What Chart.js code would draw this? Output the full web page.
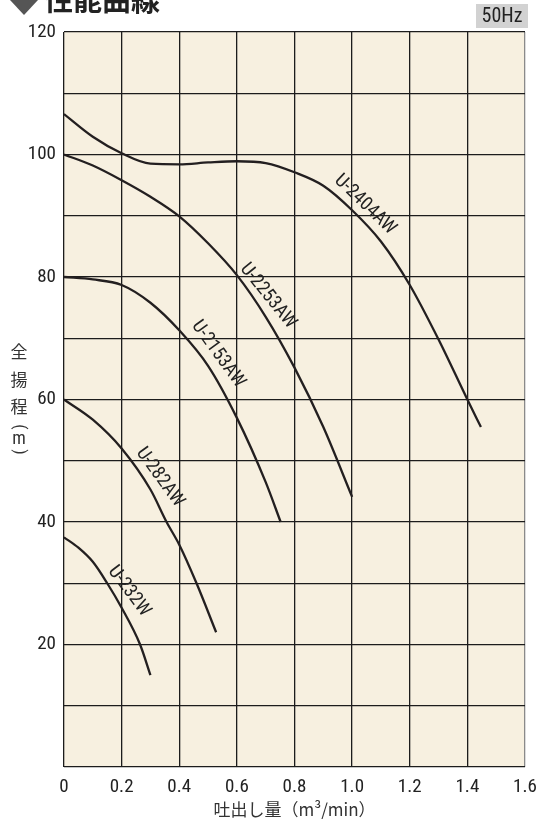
<!DOCTYPE html>
<html><head><meta charset="utf-8">
<script src="https://cdn.jsdelivr.net/npm/chart.js@4/dist/chart.umd.min.js"></script>
<style>html,body{margin:0;padding:0;background:#fff}#wrap{width:539px;height:820px;position:relative}</style>
</head><body><div id="wrap"><canvas id="c" width="539" height="820"></canvas></div>
<script>
const seriesNames = ['U-2404AW','U-2253AW','U-2153AW','U-282AW','U-232W'];
const u2404X = [0,0.1,0.2,0.3,0.4,0.5,0.6,0.7,0.8,0.9,1.0,1.1,1.2,1.3,1.4,1.447];
const u2404Y = [106.6,102.9,100.2,98.5,98.4,98.7,98.9,98.6,97.1,94.9,90.9,85.8,78.7,69.8,60,55.5];
const u2253X = [0,0.1,0.2,0.3,0.4,0.5,0.6,0.7,0.8,0.9,1.0];
const u2253Y = [100,98.2,95.8,93.1,89.9,85.5,80.3,73.5,65.2,55.5,44.1];
const u2153X = [0,0.1,0.2,0.3,0.4,0.5,0.6,0.7,0.752];
const u2153Y = [80,79.6,78.7,75.8,71.3,65.5,57,46.5,40];
const u282X = [0,0.1,0.2,0.3,0.356,0.4,0.46,0.528];
const u282Y = [60,56.7,52,45.3,40,36.3,30,22];
const u232X = [0,0.05,0.1,0.15,0.2,0.264,0.3];
const u232Y = [37.5,35.8,33.5,30,26,20,15];
const labelX = [1.045,0.708,0.535,0.333,0.226];
const labelY = [91.8,76.9,67.4,47.3,28.7];
const labelAngle = [44,51,54,54,53];
const xTicks = [0,0.2,0.4,0.6,0.8,1.0,1.2,1.4,1.6];
const yTickLabels = [20,40,60,80,100,120];

const NUM_FONT = "'Roboto Condensed',sans-serif";
const CJK = "'Noto Sans CJK JP',sans-serif";
const pts = (xs, ys) => xs.map((x,i)=>({x, y: ys[i]}));
const allX = [u2404X,u2253X,u2153X,u282X,u232X];
const allY = [u2404Y,u2253Y,u2153Y,u282Y,u232Y];

const deco = {
  id:'deco',
  beforeDraw(chart){
    const {ctx, chartArea:a} = chart;
    ctx.save();
    ctx.fillStyle = '#f7f0e0';
    ctx.fillRect(a.left, a.top, a.right-a.left, a.bottom-a.top);
    ctx.restore();
  },
  afterDraw(chart){
    const {ctx, scales} = chart;
    ctx.save();
    // title
    ctx.fillStyle = '#555';
    ctx.beginPath();
    ctx.moveTo(24,-14); ctx.lineTo(38,0); ctx.lineTo(24,15); ctx.lineTo(10,0); ctx.closePath(); ctx.fill();
    ctx.fillStyle = '#222';
    ctx.font = "bold 29px " + CJK;
    ctx.textBaseline = 'middle';
    ctx.textAlign = 'left';
    ctx.fillText('性能曲線', 44, 0);
    // 50Hz box
    ctx.fillStyle = '#d2d2d2';
    ctx.fillRect(476, 4, 52, 24);
    ctx.fillStyle = '#222';
    ctx.font = "20px " + NUM_FONT;
    ctx.textAlign = 'center';
    ctx.fillText('50Hz', 502, 17);
    // y title vertical
    ctx.fillStyle = '#333';
    const chars = ['全','揚','程'];
    const ys = [352,380,407];
    ctx.font = "17px " + CJK;
    chars.forEach((c,i)=> ctx.fillText(c, 19, ys[i]));
    ctx.font = "18px " + NUM_FONT;
    ctx.fillText('m', 19, 439);
    ctx.font = "17px " + NUM_FONT;
    [['(',427],[')',452]].forEach(([c,y])=>{
      ctx.save(); ctx.translate(19, y); ctx.rotate(Math.PI/2);
      ctx.textAlign='center'; ctx.textBaseline='middle';
      ctx.fillText(c, 0, 0); ctx.restore();
    });
    // curve labels
    ctx.font = "19px " + NUM_FONT;
    ctx.fillStyle = '#222';
    seriesNames.forEach((n,i)=>{
      const px = scales.x.getPixelForValue(labelX[i]);
      const py = scales.y.getPixelForValue(labelY[i]);
      ctx.save();
      ctx.translate(px, py);
      ctx.rotate(labelAngle[i]*Math.PI/180);
      ctx.textAlign='center'; ctx.textBaseline='middle';
      ctx.fillText(n, 0, 0);
      ctx.restore();
    });
    ctx.restore();
  }
};

new Chart(document.getElementById('c'), {
  type:'line',
  data:{
    datasets: seriesNames.map((n,i)=>({
      label:n,
      data: pts(allX[i], allY[i]),
      borderColor:'#231f20',
      borderWidth:2.3,
      pointRadius:0,
      cubicInterpolationMode:'monotone',
      fill:false
    }))
  },
  options:{
    responsive:false,
    animation:false,
    layout:{padding:{left:0,right:14,top:32,bottom:0}},
    plugins:{legend:{display:false},tooltip:{enabled:false}},
    scales:{
      x:{
        type:'linear', min:0, max:1.6,
        afterBuildTicks(s){ s.ticks = xTicks.map(v=>({value:v})); },
        afterFit(s){ s.height = 53; s.paddingLeft = 0; s.paddingRight = 0; },
        grid:{color:(c)=> c.index===xTicks.length-1 ? '#8a8a8a' : '#1c1c1c', lineWidth:1.3, drawTicks:false},
        border:{display:false},
        ticks:{padding:9, color:'#222', font:{family:NUM_FONT, size:19},
          callback:(v)=> v===0 ? '0' : v.toFixed(1)},
        title:{display:true, text:'吐出し量（m³/min）', color:'#333', font:{family:CJK, size:17}, padding:{top:0,bottom:0}}
      },
      y:{
        type:'linear', min:0, max:120,
        ticks:{stepSize:10, padding:8, color:'#222', font:{family:NUM_FONT, size:19},
          callback:(v)=> (yTickLabels.includes(v) ? String(v) : '')},
        afterFit(s){ s.width = 64; s.paddingTop = 0; s.paddingBottom = 0; },
        grid:{color:'#1c1c1c', lineWidth:1.3, drawTicks:false},
        border:{display:false}
      }
    }
  },
  plugins:[deco]
});
</script></body></html>
